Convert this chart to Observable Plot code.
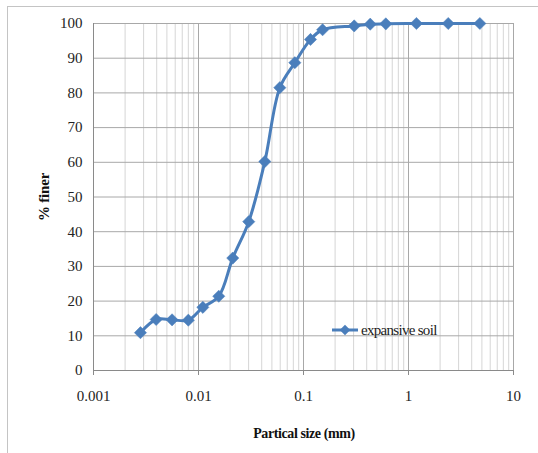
<!DOCTYPE html>
<html><head><meta charset="utf-8">
<script src="https://cdn.jsdelivr.net/npm/d3@7"></script>
<script src="https://cdn.jsdelivr.net/npm/@observablehq/plot@0.6"></script>
<style>body{margin:0;background:#fff} svg{display:block}</style>
</head><body><div id="chart"></div>
<script>
const sizes = [0.0028, 0.00395, 0.0056, 0.008, 0.011, 0.0156, 0.0212, 0.0301, 0.0428, 0.0595, 0.0827, 0.1166, 0.152, 0.304, 0.432, 0.608, 1.19, 2.39, 4.78];
const finer = [10.9, 14.7, 14.6, 14.5, 18.2, 21.4, 32.4, 42.9, 60.2, 81.5, 88.7, 95.4, 98.2, 99.3, 99.8, 99.9, 100, 100, 100];
const xTicks = [0.001, 0.01, 0.1, 1, 10];
const xTickLabels = ["0.001", "0.01", "0.1", "1", "10"];
const yTicks = [0, 10, 20, 30, 40, 50, 60, 70, 80, 90, 100];
const minorMultipliers = [2, 3, 4, 5, 6, 7, 8, 9];
const minorX = [0.001, 0.01, 0.1, 1].flatMap(d => minorMultipliers.map(m => m * d));
const seriesName = "expansive soil";

const data = sizes.map((s, i) => ({size: s, finer: finer[i]}));
const blue = "#4a7ebb";
const font = "Liberation Serif, Times New Roman, serif";

const chart = Plot.plot({
  width: 538, height: 453,
  marginLeft: 93, marginRight: 25, marginTop: 23, marginBottom: 83,
  style: {fontFamily: font, fontSize: "15px", background: "#fff", color: "#222"},
  x: {type: "log", domain: [0.001, 10]},
  y: {domain: [0, 100]},
  marks: [
    Plot.ruleX(minorX, {stroke: "#d6d6d6", strokeWidth: 1}),
    Plot.ruleX(xTicks, {stroke: "#a8a8a8", strokeWidth: 1}),
    Plot.ruleY(yTicks, {stroke: "#a8a8a8", strokeWidth: 1}),
    Plot.ruleY([0], {stroke: "#8a8a8a"}),
    Plot.ruleX([0.001], {stroke: "#8a8a8a"}),
    Plot.axisX({ticks: xTicks, tickFormat: d => xTickLabels[xTicks.indexOf(d)], tickSize: 5, tickPadding: 15, stroke: "#8a8a8a", label: null, fontSize: 15}),
    Plot.axisY({ticks: yTicks, tickSize: 0, tickPadding: 11, label: null, fontSize: 15}),
    Plot.line(data, {x: "size", y: "finer", curve: "catmull-rom", stroke: blue, strokeWidth: 3}),
    Plot.dot(data, {x: "size", y: "finer", symbol: "diamond2", r: 5.5, fill: blue, stroke: blue, strokeWidth: 0.5})
  ]
});

const svg = d3.select(chart);
svg.insert("rect", ":first-child").attr("x", 7.5).attr("y", 6.5).attr("width", 700).attr("height", 700)
  .attr("fill", "none").attr("stroke", "#c4c4c4");
svg.append("text").attr("x", 304).attr("y", 438).attr("text-anchor", "middle")
  .attr("font-family", font).attr("font-weight", "bold").attr("font-size", 14).attr("letter-spacing", -0.4)
  .attr("fill", "#111").text("Partical size (mm)");
svg.append("text").attr("transform", "translate(49,197) rotate(-90)").attr("text-anchor", "middle")
  .attr("font-family", font).attr("font-weight", "bold").attr("font-size", 15).attr("letter-spacing", -0.2)
  .attr("fill", "#111").text("% finer");
const lg = svg.append("g");
lg.append("line").attr("x1", 332).attr("x2", 358).attr("y1", 330).attr("y2", 330).attr("stroke", blue).attr("stroke-width", 3);
lg.append("path").attr("d", d3.symbol(d3.symbolDiamond2, 70)()).attr("transform", "translate(345,330)").attr("fill", blue);
lg.append("text").attr("x", 361).attr("y", 335).attr("text-anchor", "start").attr("font-family", font).attr("font-size", 15).attr("letter-spacing", -0.7)
  .attr("fill", "#222").text(seriesName);

document.getElementById("chart").appendChild(chart);
</script></body></html>
